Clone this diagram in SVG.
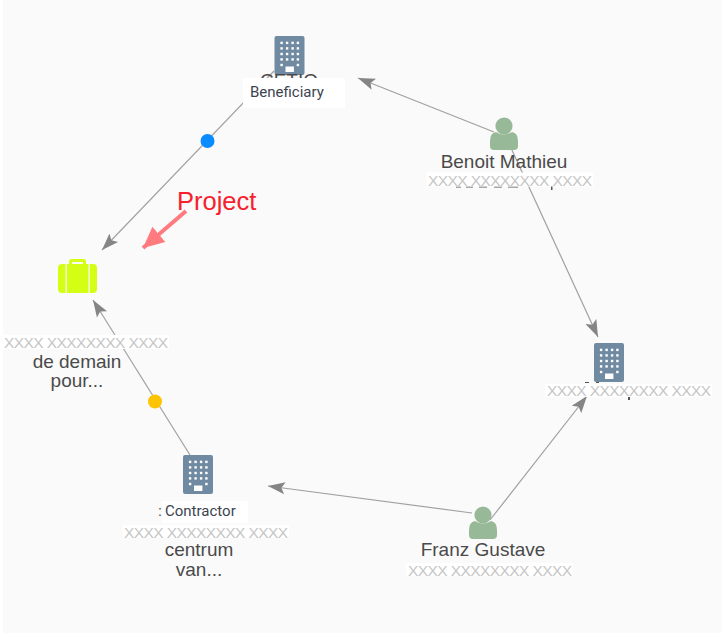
<svg xmlns="http://www.w3.org/2000/svg" width="724" height="637" viewBox="0 0 724 637">
<style>
.lbl{font-family:"Liberation Sans",Arial,sans-serif;font-size:19px;fill:#4a4a4a;text-anchor:middle}
.xx{font-family:"Liberation Sans",Arial,sans-serif;font-size:15.5px;fill:#c6c6c6}
.bx{fill:#fff}
.tag{font-family:Roboto,"Liberation Sans",sans-serif;font-size:15px;fill:#3c4450}
.ln{fill:none;stroke:#a0a0a0;stroke-width:1.2}
.bd{fill:#708aa2}
.win{fill:#fff}
.per{fill:#98b998}
.frag{fill:#555}
</style>
<defs>
<marker id="ah" markerUnits="userSpaceOnUse" markerWidth="18" markerHeight="14" refX="17" refY="7" orient="auto"><path d="M0 1L17 7L0 13L3.5 7Z" fill="#858585"/></marker>
<marker id="red" markerUnits="userSpaceOnUse" markerWidth="22" markerHeight="22" refX="21" refY="11" orient="auto"><path d="M0 1L21 11L0 21Z" fill="#ff7b7f"/></marker>
<g id="bld">
<rect width="30" height="39" rx="2" class="bd"/>
<g class="win">
<rect x="5.900" y="5.700" width="2.400" height="2.400"/><rect x="11.400" y="5.700" width="2.400" height="2.400"/><rect x="16.900" y="5.700" width="2.400" height="2.400"/><rect x="22.200" y="5.700" width="2.400" height="2.400"/>
<rect x="5.900" y="11.200" width="2.400" height="2.400"/><rect x="11.400" y="11.200" width="2.400" height="2.400"/><rect x="16.900" y="11.200" width="2.400" height="2.400"/><rect x="22.200" y="11.200" width="2.400" height="2.400"/>
<rect x="5.900" y="16.800" width="2.400" height="2.400"/><rect x="11.400" y="16.800" width="2.400" height="2.400"/><rect x="16.900" y="16.800" width="2.400" height="2.400"/><rect x="22.200" y="16.800" width="2.400" height="2.400"/>
<rect x="5.900" y="22.200" width="2.400" height="2.400"/><rect x="11.400" y="22.200" width="2.400" height="2.400"/><rect x="16.900" y="22.200" width="2.400" height="2.400"/><rect x="22.200" y="22.200" width="2.400" height="2.400"/>
<rect x="5.900" y="27.800" width="2.400" height="2.400"/><rect x="22.200" y="27.800" width="2.400" height="2.400"/>
<rect x="11" y="30.500" width="8.400" height="5.500"/>
</g>
</g>
<g id="per">
<circle cx="0" cy="-9" r="8.600" class="per"/>
<path d="M-8 -3Q0 2 8 -3Q14 -2 14 6V11Q14 15 10 15H-10Q-14 15 -14 11V6Q-14 -2 -8 -3Z" class="per"/>
</g>
</defs>
<rect width="724" height="637" fill="#fff"/>
<rect x="3" y="0" width="719" height="633" fill="#fafafa"/>

<g id="connectors">
<path class="ln" d="M494 132L358 78" marker-end="url(#ah)"/>
<path class="ln" d="M511 148L598 337" marker-end="url(#ah)"/>
<path class="ln" d="M490 520L587 396" marker-end="url(#ah)"/>
<path class="ln" d="M472 513L268 486" marker-end="url(#ah)"/>
<path class="ln" d="M190 455L93 300" marker-end="url(#ah)"/>
<path class="ln" d="M274 71L102 250" marker-end="url(#ah)"/>
<circle cx="207.500" cy="141" r="7" fill="#0a8cff"/>
<circle cx="155" cy="401.500" r="7" fill="#ffc400"/>
<path d="M186 211L143 248" fill="none" stroke="#ff7b7f" stroke-width="4" marker-end="url(#red)"/>
</g>

<g id="node-beneficiary">
<use href="#bld" x="274.500" y="36"/>
<text class="lbl" x="289" y="87">CETIO</text>
<rect class="bx" x="243" y="78" width="102" height="30"/>
<text class="tag" x="250" y="97">Beneficiary</text>
</g>

<g id="node-benoit">
<use href="#per" x="504" y="135"/>
<text class="lbl" x="504" y="168">Benoit Mathieu</text>
<path d="M456 187h5M466 187h7M479 187h8M494 187h8M508 187h10" stroke="#555" stroke-width="1.200" fill="none"/>
<rect class="frag" x="551" y="186" width="1.500" height="4"/>
<rect class="bx" x="427" y="172.500" width="166" height="14"/>
<text class="xx" x="428" y="185.500" textLength="164">XXXX XXXXXXXX XXXX</text>
</g>

<g id="node-right">
<use href="#bld" x="594" y="343"/>
<rect class="frag" x="585" y="382" width="4" height="1"/>
<rect class="frag" x="596" y="382" width="3" height="1"/>
<rect class="frag" x="628" y="397" width="2" height="3"/>
<rect class="bx" x="545" y="384" width="167" height="13"/>
<text class="xx" x="547" y="396" textLength="164">XXXX XXXXXXXX XXXX</text>
</g>

<g id="node-franz">
<use href="#per" x="483" y="524"/>
<text class="lbl" x="483" y="556">Franz Gustave</text>
<rect class="bx" x="406" y="563" width="167" height="13"/>
<text class="xx" x="408" y="575.500" textLength="164">XXXX XXXXXXXX XXXX</text>
</g>

<g id="node-contractor">
<use href="#bld" x="183" y="455"/>
<text class="lbl" x="158" y="516" style="font-size:14px;text-anchor:start">:</text>
<rect class="bx" x="162" y="501" width="86" height="22"/>
<text class="tag" x="165" y="516">Contractor</text>
<rect class="bx" x="123" y="525" width="166" height="13"/>
<text class="xx" x="124" y="538" textLength="164">XXXX XXXXXXXX XXXX</text>
<text class="lbl" x="199" y="556">centrum</text>
<text class="lbl" x="199" y="576">van...</text>
</g>

<g id="node-project">
<path d="M69 264V261.500Q69 259 71.500 259H83.500Q86 259 86 261.500V264H83V262H72V264Z" fill="#d4ff14"/>
<rect x="58" y="264" width="39" height="29" rx="4" fill="#d4ff14"/>
<rect x="65.500" y="264" width="1.300" height="29" fill="#fafafa"/>
<rect x="88.500" y="264" width="1.300" height="29" fill="#fafafa"/>
<rect class="bx" x="3" y="335" width="166" height="14"/>
<text class="xx" x="4" y="347.500" textLength="164">XXXX XXXXXXXX XXXX</text>
<text class="lbl" x="77" y="368">de demain</text>
<text class="lbl" x="77" y="387">pour...</text>
</g>

<text x="177" y="209.500" style="font-family:'Liberation Sans',Arial,sans-serif;font-size:25.500px;fill:#f5222d">Project</text>
</svg>
